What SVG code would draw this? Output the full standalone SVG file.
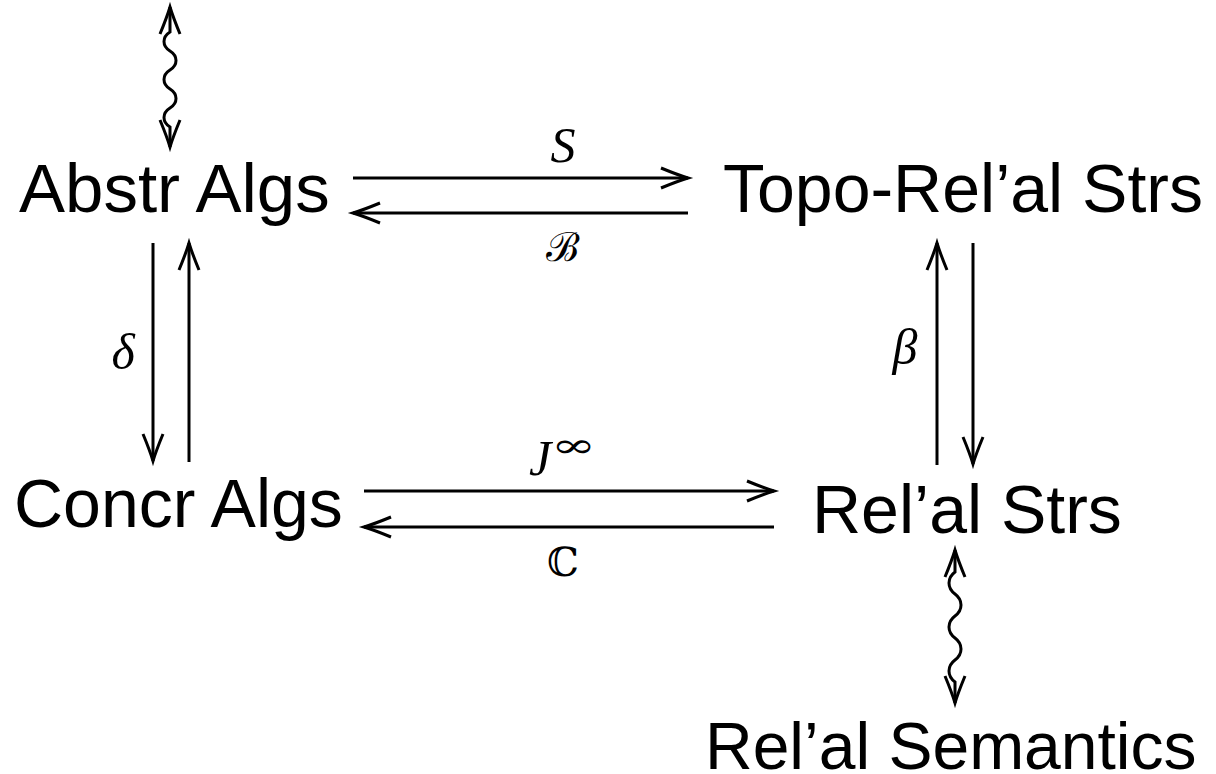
<svg xmlns="http://www.w3.org/2000/svg" width="1216" height="774" viewBox="0 0 1216 774">
  <style>
    .node { font-family: "Liberation Sans", Arial, sans-serif; font-size: 68px; fill: #000; }
    .lbl { font-family: "Liberation Serif", "DejaVu Serif", serif; font-style: italic; font-size: 50px; fill: #000; }
    .sym { font-family: "DejaVu Serif", "Liberation Serif", serif; font-size: 40px; fill: #000; }
    .edge { fill: none; stroke: #000; stroke-width: 3; }
  </style>
  <defs>
    <marker id="head" markerUnits="userSpaceOnUse" viewBox="-30 -13 33 26" markerWidth="33" markerHeight="26" refX="0" refY="0" orient="auto" overflow="visible">
      <path d="M -27 -10 Q -10 -3 0 0 Q -10 3 -27 10" fill="none" stroke="#000" stroke-width="3"/>
    </marker>
    <marker id="tail" markerUnits="userSpaceOnUse" viewBox="-30 -13 33 26" markerWidth="33" markerHeight="26" refX="0" refY="0" orient="auto-start-reverse" overflow="visible">
      <path d="M -27 -10 Q -10 -3 0 0 Q -10 3 -27 10" fill="none" stroke="#000" stroke-width="3"/>
    </marker>
  </defs>

  <!-- nodes -->
  <g id="abstr-algs"><text class="node" x="19" y="212" style="font-size:69px">Abstr Algs</text></g>
  <g id="topo-relal-strs"><text class="node" x="723" y="212">Topo-Rel’al Strs</text></g>
  <g id="concr-algs"><text class="node" x="14" y="527">Concr Algs</text></g>
  <g id="relal-strs"><text class="node" x="812" y="533">Rel’al Strs</text></g>
  <g id="relal-semantics"><text class="node" x="705" y="769" style="font-size:66px">Rel’al Semantics</text></g>

  <!-- connectors -->
  <g id="connectors">
    <!-- top row: S and B -->
    <line class="edge" x1="353" y1="178" x2="688" y2="178" marker-end="url(#head)"/>
    <line class="edge" x1="688" y1="213" x2="353" y2="213" marker-end="url(#head)"/>
    <!-- bottom row: J^inf and C -->
    <line class="edge" x1="364" y1="491" x2="774" y2="491" marker-end="url(#head)"/>
    <line class="edge" x1="774" y1="527" x2="364" y2="527" marker-end="url(#head)"/>
    <!-- left column: delta down, return up -->
    <line class="edge" x1="153" y1="243" x2="153" y2="461" marker-end="url(#head)"/>
    <line class="edge" x1="189" y1="462" x2="189" y2="243" marker-end="url(#head)"/>
    <!-- right column: beta up, return down -->
    <line class="edge" x1="937" y1="465" x2="937" y2="243" marker-end="url(#head)"/>
    <line class="edge" x1="973" y1="243" x2="973" y2="464" marker-end="url(#head)"/>
    <!-- squiggly two-way arrows -->
    <path class="edge" d="M170,7 L170,32 c -8,5 -8,14 0,19 s 8,14 0,19 s -8,14 0,19 s 8,14 0,19 s -8,14 0,19 L170,147" marker-start="url(#tail)" marker-end="url(#head)"/>
    <path class="edge" d="M955,550 L955,572 c -8,6 -8,16 0,22 s 8,16 0,22 s -8,16 0,22 s 8,16 0,22 s -8,16 0,22 L955,703" marker-start="url(#tail)" marker-end="url(#head)"/>
  </g>

  <!-- arrow labels -->
  <g id="labels">
    <text class="lbl" x="563" y="162" text-anchor="middle">S</text>
    <text class="sym" x="563" y="261" text-anchor="middle">ℬ</text>
    <text class="lbl" x="540" y="475" text-anchor="middle">J</text>
    <text class="sym" x="551" y="457" style="font-size:34px" textLength="45" lengthAdjust="spacingAndGlyphs">∞</text>
    <text class="sym" x="563" y="576" text-anchor="middle">ℂ</text>
    <text class="lbl" x="123" y="369" text-anchor="middle">δ</text>
    <text class="lbl" x="905" y="364" text-anchor="middle">β</text>
  </g>
</svg>
